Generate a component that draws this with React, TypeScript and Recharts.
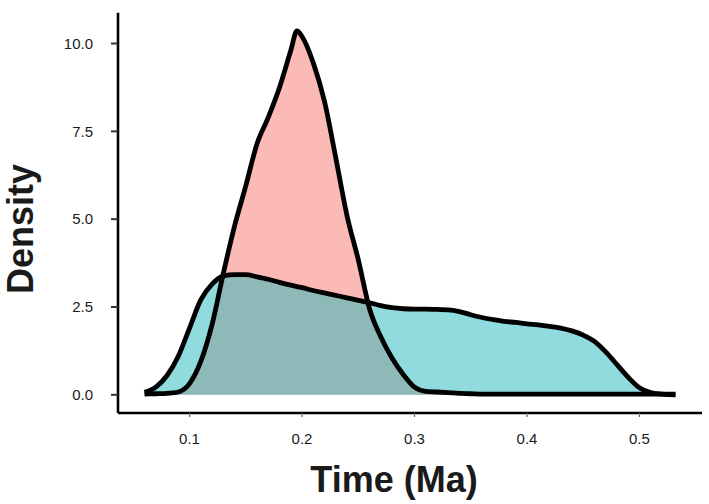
import React from "react";
import { ComposedChart, Area, Line, XAxis, YAxis } from "recharts";

const timeMa = [
  0.06, 0.07, 0.08, 0.09, 0.1, 0.11, 0.12, 0.13, 0.14, 0.15, 0.16, 0.17, 0.18, 0.19, 0.1955, 0.2,
  0.21, 0.22, 0.23, 0.24, 0.25, 0.26, 0.27, 0.28, 0.29, 0.3, 0.31, 0.32, 0.33, 0.34, 0.35, 0.36,
  0.37, 0.38, 0.39, 0.4, 0.41, 0.42, 0.43, 0.44, 0.45, 0.46, 0.47, 0.48, 0.49, 0.5, 0.51, 0.52, 0.532,
];

const redDensity = [
  0.02, 0.03, 0.04, 0.08, 0.32, 0.95, 2.0, 3.45, 4.8, 5.95, 7.15, 7.9, 8.75, 9.8, 10.36, 10.2,
  9.45, 8.35, 6.75, 5.1, 3.85, 2.45, 1.65, 1.05, 0.58, 0.22, 0.1, 0.08, 0.06, 0.04, 0.03, 0.02,
  0.02, 0.02, 0.02, 0.02, 0.02, 0.02, 0.02, 0.02, 0.02, 0.02, 0.02, 0.02, 0.02, 0.02, 0.02, 0.02, 0.02,
];

const tealDensity = [
  0.07, 0.22, 0.55, 1.1, 1.9, 2.7, 3.15, 3.38, 3.42, 3.42, 3.36, 3.29, 3.2, 3.12, 3.08, 3.05,
  2.97, 2.9, 2.83, 2.76, 2.69, 2.62, 2.54, 2.48, 2.45, 2.44, 2.44, 2.43, 2.42, 2.37, 2.28, 2.2,
  2.14, 2.09, 2.06, 2.02, 1.99, 1.95, 1.9, 1.82, 1.7, 1.52, 1.22, 0.86, 0.5, 0.2, 0.06, 0.02, 0.0,
];

const xTicks = [0.1, 0.2, 0.3, 0.4, 0.5];
const yTicks = [0, 2.5, 5, 7.5, 10];

const data = timeMa.map((x, i) => ({ x, red: redDensity[i], teal: tealDensity[i] }));

const FONT = "'Liberation Sans', Arial, Helvetica, sans-serif";

export default function App() {
  return (
    <div style={{ position: "absolute", left: 0, top: 0, width: 709, height: 504, background: "#fff" }}>
      <ComposedChart
        width={709}
        height={504}
        data={data}
        margin={{ top: 12.7, right: 7, left: 0, bottom: 0 }}
      >
        <XAxis
          dataKey="x"
          type="number"
          domain={[0.0364, 0.5556]}
          allowDataOverflow
          ticks={xTicks}
          tickFormatter={(v: number) => v.toFixed(1)}
          height={91}
          tickSize={4}
          tickMargin={16}
          axisLine={{ stroke: "#000", strokeWidth: 2.6 }}
          tickLine={{ stroke: "#666", strokeWidth: 1.2 }}
          tick={{ fill: "#1a1a1a", fontSize: 15, fontFamily: FONT }}
        />
        <YAxis
          type="number"
          domain={[-0.518, 10.878]}
          allowDataOverflow
          ticks={yTicks}
          tickFormatter={(v: number) => v.toFixed(1)}
          width={118}
          tickSize={7}
          tickMargin={18}
          axisLine={{ stroke: "#000", strokeWidth: 2.6 }}
          tickLine={{ stroke: "#333", strokeWidth: 2 }}
          tick={{ fill: "#1a1a1a", fontSize: 15, fontFamily: FONT }}
        />
        <Area
          type="monotone"
          dataKey="red"
          baseValue={0}
          fill="#F8766D"
          fillOpacity={0.5}
          stroke="none"
          isAnimationActive={false}
        />
        <Area
          type="monotone"
          dataKey="teal"
          baseValue={0}
          fill="#1FB8BC"
          fillOpacity={0.5}
          stroke="none"
          isAnimationActive={false}
        />
        <Line
          type="monotone"
          dataKey="red"
          stroke="#000"
          strokeWidth={4.8}
          dot={false}
          strokeLinejoin="round"
          isAnimationActive={false}
        />
        <Line
          type="monotone"
          dataKey="teal"
          stroke="#000"
          strokeWidth={4.8}
          dot={false}
          strokeLinejoin="round"
          isAnimationActive={false}
        />
      </ComposedChart>
      <svg
        width={709}
        height={504}
        style={{ position: "absolute", left: 0, top: 0, pointerEvents: "none" }}
      >
        <text
          x={394}
          y={492}
          textAnchor="middle"
          fontFamily={FONT}
          fontWeight="bold"
          fontSize={36}
          fill="#1a1a1a"
        >
          Time (Ma)
        </text>
        <text
          x={33}
          y={229}
          textAnchor="middle"
          transform="rotate(-90 33 229)"
          fontFamily={FONT}
          fontWeight="bold"
          fontSize={36}
          fill="#1a1a1a"
        >
          Density
        </text>
      </svg>
    </div>
  );
}
